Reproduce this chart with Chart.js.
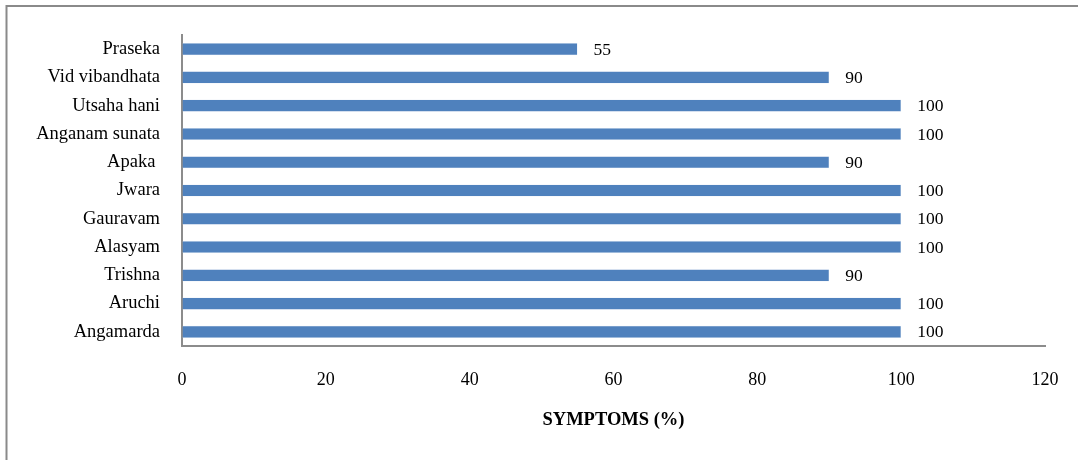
<!DOCTYPE html>
<html>
<head>
<meta charset="utf-8">
<script src="https://cdn.jsdelivr.net/npm/chart.js@4.4.1/dist/chart.umd.min.js"></script>
<style>
  html, body { margin: 0; padding: 0; background: #ffffff; }
  #wrap { width: 1078px; height: 460px; position: relative; }
</style>
</head>
<body>
<div id="wrap"><canvas id="chart" width="1078" height="460"></canvas></div>
<script>
// Symptom names, listed top to bottom
const symptoms = [
  'Praseka', 'Vid vibandhata', 'Utsaha hani', 'Anganam sunata', 'Apaka ',
  'Jwara', 'Gauravam', 'Alasyam', 'Trishna', 'Aruchi', 'Angamarda'
];
// Share of patients showing each symptom (%)
const percentages = [55, 90, 100, 100, 90, 100, 100, 100, 90, 100, 100];
// Horizontal axis ticks
const xTicks = [0, 20, 40, 60, 80, 100, 120];
const xTitle = 'SYMPTOMS (%)';

const serif = '"Liberation Serif", "Times New Roman", serif';

// Grey frame along the top and left edges of the figure
const framePlugin = {
  id: 'frame',
  beforeDraw(chart) {
    const ctx = chart.ctx;
    ctx.save();
    ctx.strokeStyle = '#8a8a8a';
    ctx.lineWidth = 2;
    ctx.beginPath();
    ctx.moveTo(6.5, chart.height);
    ctx.lineTo(6.5, 6);
    ctx.lineTo(chart.width, 6);
    ctx.stroke();
    ctx.restore();
  }
};

// Value printed to the right of each bar
const valueLabels = {
  id: 'valueLabels',
  afterDatasetsDraw(chart) {
    const ctx = chart.ctx;
    const meta = chart.getDatasetMeta(0);
    const data = chart.data.datasets[0].data;
    ctx.save();
    ctx.font = '17.5px ' + serif;
    ctx.fillStyle = '#000000';
    ctx.textAlign = 'left';
    ctx.textBaseline = 'middle';
    meta.data.forEach((bar, i) => {
      ctx.fillText(String(data[i]), bar.x + 16, bar.y + 1);
    });
    ctx.restore();
  }
};

new Chart(document.getElementById('chart'), {
  type: 'bar',
  data: {
    labels: symptoms,
    datasets: [{
      data: percentages,
      backgroundColor: '#4f81bd',
      borderColor: '#dfe8f3',
      borderWidth: 0.5,
      categoryPercentage: 1,
      barPercentage: 0.43
    }]
  },
  options: {
    indexAxis: 'y',
    responsive: false,
    animation: false,
    devicePixelRatio: 1,
    layout: { padding: { top: 35, right: 33, bottom: 0, left: 0 } },
    plugins: {
      legend: { display: false },
      tooltip: { enabled: false }
    },
    scales: {
      x: {
        min: 0,
        max: 120,
        afterBuildTicks(scale) {
          scale.ticks = xTicks.map(v => ({ value: v }));
        },
        afterFit(scale) {
          scale.height = 114;
          // the label padding only pushes the axis down, not the edges in
          scale.paddingLeft = 0;
          scale.paddingRight = 0;
        },
        grid: { display: true, drawOnChartArea: false, drawTicks: false },
        border: { display: true, color: '#8c8c8c', width: 2 },
        ticks: {
          padding: 23,
          color: '#000000',
          font: { family: serif, size: 18 },
          maxRotation: 0
        },
        title: {
          display: true,
          text: xTitle,
          color: '#000000',
          font: { family: serif, size: 18.5, weight: 'bold' },
          padding: { top: 0, bottom: 29 }
        }
      },
      y: {
        afterFit(scale) { scale.width = 182; },
        grid: { display: true, drawOnChartArea: false, drawTicks: false },
        border: { display: true, color: '#8c8c8c', width: 2 },
        ticks: {
          padding: 22,
          color: '#000000',
          font: { family: serif, size: 18.5 }
        }
      }
    }
  },
  plugins: [framePlugin, valueLabels]
});
</script>
</body>
</html>
